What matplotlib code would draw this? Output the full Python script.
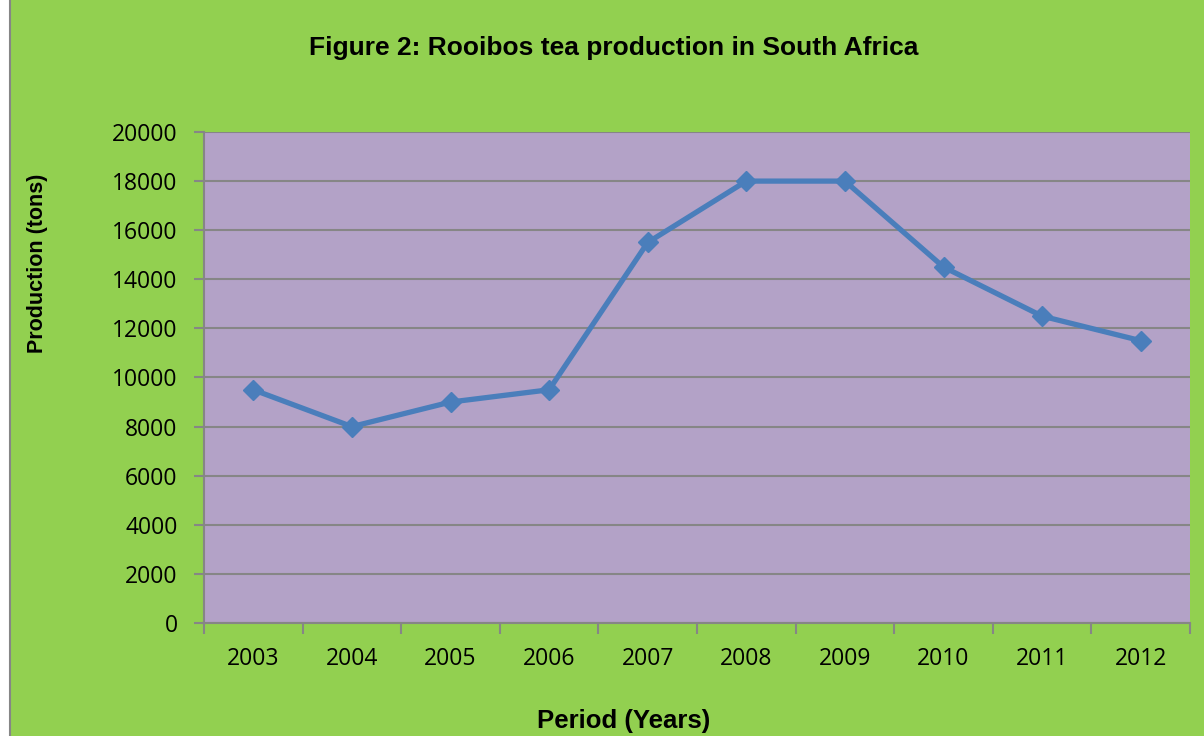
import matplotlib.pyplot as plt
from matplotlib.patches import Rectangle

years = ["2003", "2004", "2005", "2006", "2007", "2008", "2009", "2010", "2011", "2012"]
production = [9500, 8000, 9000, 9500, 15500, 18000, 18000, 14500, 12500, 11500]
y_ticks = [0, 2000, 4000, 6000, 8000, 10000, 12000, 14000, 16000, 18000, 20000]

green = "#92D050"
purple = "#B3A2C7"
blue = "#4A7EBB"
grey = "#868686"

fig = plt.figure(figsize=(12.04, 7.36), dpi=100)
fig.patch.set_facecolor("white")
# green chart area with the thin border on the left
bg = Rectangle((10 / 1204, -0.01), 1.0, 1.02, transform=fig.transFigure,
               facecolor=green, edgecolor=grey, linewidth=1.5, zorder=-10)
fig.add_artist(bg)

ax = fig.add_axes([204 / 1204, 1 - 623 / 736, (1190 - 204) / 1204, (623 - 132) / 736])
ax.set_facecolor(purple)

x = list(range(len(years)))
ax.plot(x, production, color=blue, linewidth=3.8, marker="D", markersize=10,
        markerfacecolor=blue, markeredgecolor=blue, zorder=3, clip_on=False)

ax.set_xlim(-0.5, len(years) - 0.5)
ax.set_ylim(0, 20000)
ax.set_yticks(y_ticks)
ax.set_yticklabels([str(v) for v in y_ticks])
ax.yaxis.grid(True, color=grey, linewidth=1.5)
ax.set_axisbelow(True)

ax.set_xticks([i - 0.5 for i in range(len(years) + 1)])
ax.set_xticklabels([])
ax.set_xticks(x, minor=True)
ax.set_xticklabels(years, minor=True)
ax.tick_params(axis="x", which="major", length=8, width=1.5, color=grey, direction="out")
ax.tick_params(axis="x", which="minor", length=0, pad=17, labelsize=16.5)
ax.tick_params(axis="y", length=7, width=1.5, color=grey, labelsize=16.5, pad=12)
for lab in ax.get_xticklabels(minor=True) + ax.get_yticklabels():
    lab.set_family("Open Sans")

for side in ["top", "right"]:
    ax.spines[side].set_visible(False)
for side in ["left", "bottom"]:
    ax.spines[side].set_color(grey)
    ax.spines[side].set_linewidth(1.5)

fig.text(614 / 1204, 1 - 48 / 736, "Figure 2: Rooibos tea production in South Africa",
         ha="center", va="center", fontsize=19, fontweight="bold", family="Liberation Sans")
fig.text(38 / 1204, 1 - 263 / 736, "Production (tons)", rotation=90,
         ha="center", va="center", fontsize=15.5, fontweight="bold", family="Liberation Sans")
fig.text(624 / 1204, 1 - 721 / 736, "Period (Years)",
         ha="center", va="center", fontsize=18.5, fontweight="bold", family="Liberation Sans")

fig.savefig("out.png", dpi=100)
